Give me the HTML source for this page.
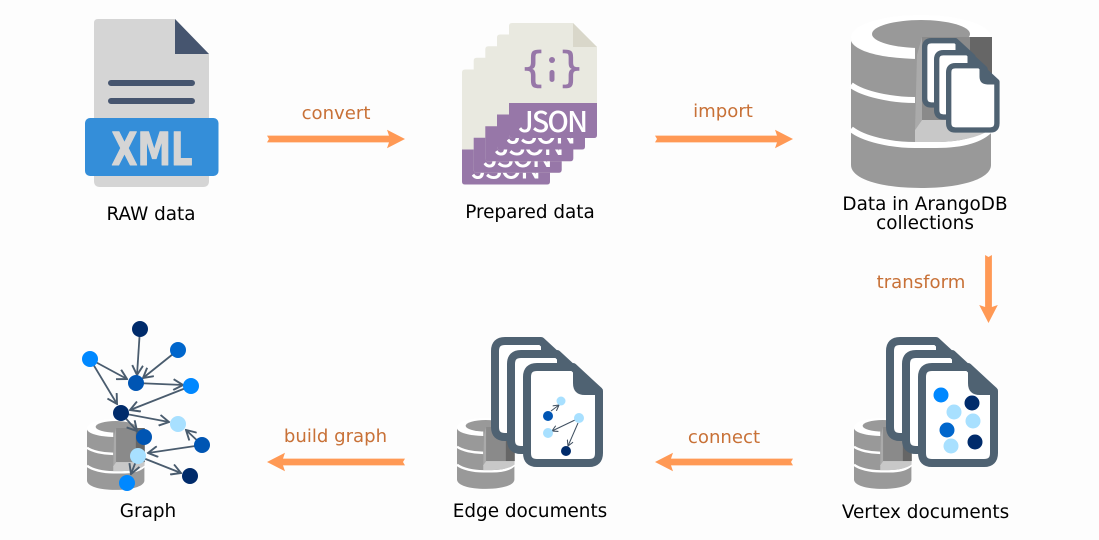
<!DOCTYPE html>
<html><head><meta charset="utf-8"><style>
html,body{margin:0;padding:0;background:#fdfdfd}
svg{display:block}
.l{font-family:"DejaVu Sans",sans-serif;font-size:18.4px;fill:#000;text-anchor:middle}
.a{font-family:"DejaVu Sans",sans-serif;font-size:18.1px;fill:#c87137;text-anchor:middle}
</style></head><body>
<svg width="1099" height="540" viewBox="0 0 1099 540" xmlns="http://www.w3.org/2000/svg">
<defs>
<g id="arrow"><path d="M0 -3.400 H122 L120 -9.300 L138 0 L120 9.300 L122 3.400 H0 L2 0 Z" fill="#ff9955"/></g>
<g id="arrows"><path d="M0 -3.400 H52 L50 -9.300 L68 0 L50 9.300 L52 3.400 H0 L2 0 Z" fill="#ff9955"/></g>
<g id="db">
<ellipse cx="70" cy="22" rx="70" ry="22" fill="#fff"/>
<path d="M0 26 C10 50 130 50 140 26 V150 C140 164 110 173 70 173 C30 173 0 164 0 150 Z" fill="#999"/>
<ellipse cx="70" cy="19" rx="49" ry="14" fill="#999"/>
<path d="M0 70 C12 79 40 85 64 85" fill="none" stroke="#fff" stroke-width="6"/>
<path d="M0 114 C12 124 40 130 64 130 H85 C110 130 130 125 140 114" fill="none" stroke="#fff" stroke-width="6"/>
<path d="M64 22 H140 V110 L64 120 Z" fill="#999"/>
<path d="M64 115 L71 105 H140 V114 C128 123 105 127 85 127 H64 Z" fill="#c8c8c8"/>
<path d="M71 22 L66 40 L64 115 L71 105 Z" fill="#aaa"/>
<rect x="71" y="22" width="48" height="83" fill="#8a8a8a"/>
<rect x="119" y="22" width="22" height="83" fill="#666"/>
</g>
<g id="doc">
<path d="M14 4 H50 L76 28 V90 Q76 100 66 100 H14 Q4 100 4 90 V14 Q4 4 14 4 Z" fill="#fff" stroke="#4f6272" stroke-width="8" stroke-linejoin="round"/>
<path d="M50 4 L76 28 V32 H62 Q50 32 50 20 Z" fill="#4f6272"/>
</g>
<g id="jdoc">
<path d="M3 0 H64 L88 24 V112 Q88 115 85 115 H3 Q0 115 0 112 V3 Q0 0 3 0 Z" fill="#e9e9e0"/>
<path d="M64 0 L88 24 H64 Z" fill="#d9d7ca"/>
<path d="M0 80 H88 V112 Q88 115 85 115 H3 Q0 115 0 112 Z" fill="#9777a8"/>
<text x="44" y="109" text-anchor="middle" font-family="'Noto Sans CJK JP','DejaVu Sans',sans-serif" font-weight="500" font-size="28.500" fill="#fff" textLength="70">JSON</text>
</g>
<marker id="m" viewBox="0 0 10 10" refX="9" refY="5" markerWidth="12" markerHeight="12" markerUnits="userSpaceOnUse" orient="auto"><path d="M1 0.5 L9 5 L1 9.5" fill="none" stroke="#4a5c6e" stroke-width="1.600"/></marker>
<marker id="s" viewBox="0 0 10 10" refX="9" refY="5" markerWidth="7" markerHeight="7" markerUnits="userSpaceOnUse" orient="auto"><path d="M1 0.5 L9 5 L1 9.5" fill="none" stroke="#3f4f60" stroke-width="1.500"/></marker>
</defs>
<rect width="1099" height="540" fill="#fdfdfd"/>

<!-- XML -->
<path d="M98 19 H175 L209 54 V181 Q209 187 203 187 H100 Q94 187 94 181 V23 Q94 19 98 19 Z" fill="#d5d5d5"/>
<path d="M175 19 L209 54 H175 Z" fill="#46556f"/>
<path d="M111 83 H192 M111 101 H192" stroke="#46556f" stroke-width="6" stroke-linecap="round"/>
<rect x="85" y="118" width="133.500" height="58" rx="5" fill="#348ed9"/>
<text x="152" y="165" text-anchor="middle" font-family="'DejaVu Sans',sans-serif" font-weight="bold" font-size="45" fill="#d5d5d5" stroke="#d5d5d5" stroke-width="1" stroke-linejoin="round" textLength="81" lengthAdjust="spacingAndGlyphs">XML</text>
<text class="l" x="151" y="220">RAW data</text>

<!-- JSON -->
<use href="#jdoc" transform="translate(462,69.500)"/>
<use href="#jdoc" transform="translate(473.700,57.800)"/>
<use href="#jdoc" transform="translate(485.300,46.200)"/>
<use href="#jdoc" transform="translate(497,34.500)"/>
<use href="#jdoc" transform="translate(509,23)"/>
<text x="533" y="81" text-anchor="middle" font-family="'DejaVu Sans',sans-serif" font-size="41" fill="#9777a8" stroke="#9777a8" stroke-width=".8">{</text>
<text x="571" y="81" text-anchor="middle" font-family="'DejaVu Sans',sans-serif" font-size="41" fill="#9777a8" stroke="#9777a8" stroke-width=".8">}</text>
<circle cx="552" cy="60" r="3" fill="#9777a8"/>
<rect x="549.500" y="70" width="5" height="12" rx="2.500" fill="#9777a8"/>
<text class="l" x="530" y="218">Prepared data</text>

<!-- Data -->
<use href="#db" transform="translate(851,15)"/>
<use href="#doc" transform="translate(922,38) scale(.67)"/>
<use href="#doc" transform="translate(934,50) scale(.67)"/>
<use href="#doc" transform="translate(946,63) scale(.67)"/>
<text class="l" x="925" y="210">Data in ArangoDB</text>
<text class="l" x="925" y="229">collections</text>

<!-- Arrows -->
<use href="#arrow" transform="translate(267,139)"/>
<text class="a" x="336" y="119">convert</text>
<use href="#arrow" transform="translate(655,139)"/>
<text class="a" x="723" y="117">import</text>
<use href="#arrows" transform="translate(988.500,255) rotate(90)"/>
<text class="a" x="921" y="288">transform</text>
<use href="#arrow" transform="translate(405,462) rotate(180)"/>
<text class="a" x="335.500" y="442">build graph</text>
<use href="#arrow" transform="translate(793,462) rotate(180)"/>
<text class="a" x="724" y="443">connect</text>

<!-- Vertex -->
<use href="#db" transform="translate(854,418) scale(.41)"/>
<use href="#doc" transform="translate(886,337)"/>
<use href="#doc" transform="translate(902,350)"/>
<use href="#doc" transform="translate(918,363)"/>
<circle cx="941" cy="395" r="7.500" fill="#0088ff"/>
<circle cx="972" cy="403" r="7.500" fill="#002b6b"/>
<circle cx="954" cy="412" r="7.500" fill="#a8e0ff"/>
<circle cx="973" cy="421" r="7.500" fill="#a8e0ff"/>
<circle cx="947" cy="430" r="7.500" fill="#0066cc"/>
<circle cx="975" cy="442" r="7.500" fill="#002b6b"/>
<circle cx="951" cy="446" r="7.500" fill="#a8e0ff"/>
<text class="l" x="925.500" y="518">Vertex documents</text>

<!-- Edge -->
<use href="#db" transform="translate(457,418) scale(.41)"/>
<use href="#doc" transform="translate(491,337)"/>
<use href="#doc" transform="translate(507,350)"/>
<use href="#doc" transform="translate(523,363)"/>
<g fill="none" stroke="#3f4f60" stroke-width="1">
<path d="M551 411 L559 405" marker-end="url(#s)"/>
<path d="M575 420 L552 431" marker-end="url(#s)"/>
<path d="M578 423 L568 446" marker-end="url(#s)"/>
</g>
<circle cx="561" cy="401" r="4.500" fill="#a8e0ff"/>
<circle cx="548" cy="416" r="5" fill="#0055b3"/>
<circle cx="579" cy="418" r="5" fill="#a8e0ff"/>
<circle cx="548" cy="433" r="5" fill="#a8e0ff"/>
<circle cx="566" cy="451" r="5" fill="#002b6b"/>
<text class="l" x="530" y="517">Edge documents</text>

<!-- Graph -->
<use href="#db" transform="translate(87,419) scale(.41)"/>
<g fill="none" stroke="#4a5c6e" stroke-width="1.800">
<path d="M140 329 L137 375" marker-end="url(#m)"/>
<path d="M178 350 L143 378" marker-end="url(#m)"/>
<path d="M90 359 L127 379" marker-end="url(#m)"/>
<path d="M136 383 L183 385" marker-end="url(#m)"/>
<path d="M191 386 L130 410" marker-end="url(#m)"/>
<path d="M90 359 L117 404" marker-end="url(#m)"/>
<path d="M121 413 L169 422" marker-end="url(#m)"/>
<path d="M121 413 L137 431" marker-end="url(#m)"/>
<path d="M202 445 L186 430" marker-end="url(#m)"/>
<path d="M202 445 L148 453" marker-end="url(#m)"/>
<path d="M138 456 L181 473" marker-end="url(#m)"/>
<path d="M138 456 L131 474" marker-end="url(#m)"/>
</g>
<circle cx="140" cy="329" r="8" fill="#002b6b"/>
<circle cx="178" cy="350" r="8" fill="#0066cc"/>
<circle cx="90" cy="359" r="8" fill="#0088ff"/>
<circle cx="136" cy="383" r="8" fill="#0055b3"/>
<circle cx="191" cy="386" r="8" fill="#0088ff"/>
<circle cx="121" cy="413" r="8" fill="#002b6b"/>
<circle cx="178" cy="424" r="8" fill="#a8e0ff"/>
<circle cx="144" cy="437" r="8" fill="#0055b3"/>
<circle cx="202" cy="445" r="8" fill="#0055b3"/>
<circle cx="138" cy="456" r="8" fill="#a8e0ff"/>
<circle cx="190" cy="476" r="8" fill="#002b6b"/>
<circle cx="127" cy="483" r="8" fill="#0088ff"/>
<text class="l" x="148" y="517">Graph</text>
</svg>
</body></html>
